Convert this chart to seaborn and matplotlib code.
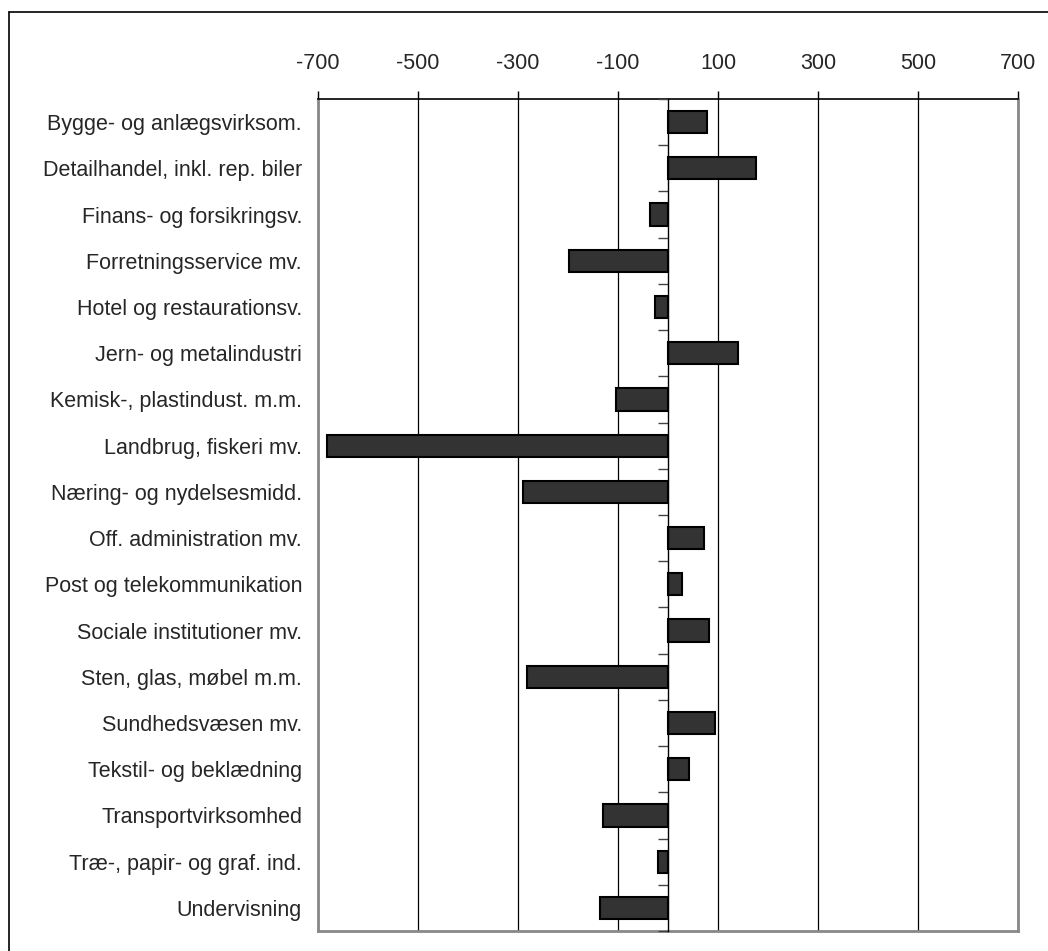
import numpy as np
import pandas as pd
import matplotlib
matplotlib.use("Agg")
import matplotlib.pyplot as plt
import seaborn as sns

# Brancher og ændring
brancher = [
    "Bygge- og anlægsvirksom.",
    "Detailhandel, inkl. rep. biler",
    "Finans- og forsikringsv.",
    "Forretningsservice mv.",
    "Hotel og restaurationsv.",
    "Jern- og metalindustri",
    "Kemisk-, plastindust. m.m.",
    "Landbrug, fiskeri mv.",
    "Næring- og nydelsesmidd.",
    "Off. administration mv.",
    "Post og telekommunikation",
    "Sociale institutioner mv.",
    "Sten, glas, møbel m.m.",
    "Sundhedsvæsen mv.",
    "Tekstil- og beklædning",
    "Transportvirksomhed",
    "Træ-, papir- og graf. ind.",
    "Undervisning",
]
aendring = [77, 175, -37, -199, -27, 139, -105, -683, -291,
            71, 27, 82, -283, 94, 41, -131, -20, -137]
x_ticks = [-700, -500, -300, -100, 100, 300, 500, 700]

df = pd.DataFrame({"Branche": brancher, "Ændring": aendring})

sns.set_style("white")
plt.rcParams["font.family"] = ["Liberation Sans", "DejaVu Sans"]

fig = plt.figure(figsize=(10.48, 9.51), dpi=100)
ax = fig.add_axes([318 / 1048, 1 - 931 / 951, 700 / 1048, 832 / 951])

sns.barplot(data=df, x="Ændring", y="Branche", orient="h", color="#333333",
            edgecolor="black", linewidth=1.5, width=0.48, saturation=1, ax=ax)

ax.set_xlim(-700, 700)
ax.set_ylim(len(brancher) - 0.5, -0.5)
ax.set_xticks(x_ticks)
ax.set_xticklabels([str(t) for t in x_ticks])
ax.xaxis.tick_top()
ax.tick_params(axis="x", direction="out", length=6, width=1, color="black",
               pad=12, labelsize=15.5)
ax.tick_params(axis="y", length=0, pad=11.5, labelsize=15.5)
ax.set_xlabel("")
ax.set_ylabel("")
for t in x_ticks:
    ax.axvline(t, color="black", lw=0.9, zorder=0)

ax.spines["top"].set_color("black")
ax.spines["top"].set_linewidth(1.2)
for side in ["left", "right", "bottom"]:
    ax.spines[side].set_color("#888888")
    ax.spines[side].set_linewidth(2)
    ax.spines[side].set_visible(True)

# nul-akse med små skillestreger mellem kategorierne
ax2 = ax.twinx()
ax2.set_ylim(ax.get_ylim())
ax2.spines["right"].set_position(("data", 0))
for side in ["left", "top", "bottom"]:
    ax2.spines[side].set_visible(False)
ax2.spines["right"].set_color("black")
ax2.spines["right"].set_linewidth(1)
ax2.set_yticks(np.arange(len(brancher) + 1) - 0.5)
ax2.tick_params(axis="y", direction="in", length=7, width=1, color="#444444",
                labelright=False, labelleft=False)
ax2.grid(False)

# rammen om figuren (kun top og venstre er synlige)
fig.add_artist(plt.Line2D([9 / 1048, 9 / 1048], [0, 1 - 11.5 / 951],
                          color="black", lw=1.2))
fig.add_artist(plt.Line2D([9 / 1048, 1], [1 - 11.5 / 951, 1 - 11.5 / 951],
                          color="black", lw=1.2))

fig.savefig("out.png", dpi=100, facecolor="white")
